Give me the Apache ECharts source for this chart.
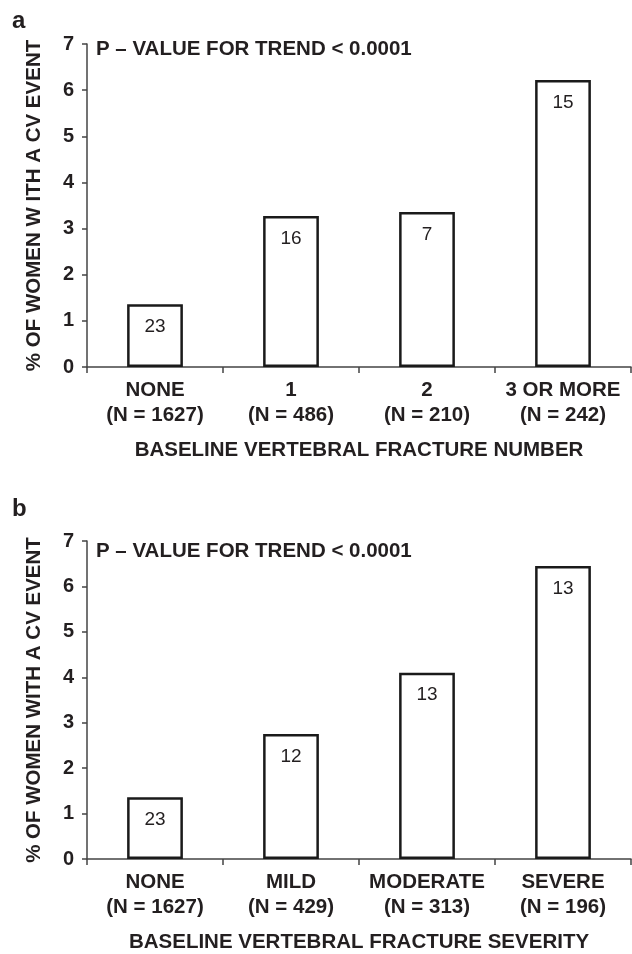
<!DOCTYPE html>
<html>
<head>
<meta charset="utf-8">
<script src="https://cdn.jsdelivr.net/npm/echarts@6/dist/echarts.min.js"></script>
<style>
html,body{margin:0;padding:0;background:#fff;}
#c{width:632px;height:954px;}
</style>
</head>
<body>
<div id="c"></div>
<script>
// Panel a
const catsA = ['NONE', '1', '2', '3 OR MORE'];
const nA = [1627, 486, 210, 242];
const valsA = [1.36, 3.27, 3.36, 6.22];
const countsA = [23, 16, 7, 15];
// Panel b
const catsB = ['NONE', 'MILD', 'MODERATE', 'SEVERE'];
const nB = [1627, 429, 313, 196];
const valsB = [1.36, 2.75, 4.1, 6.45];
const countsB = [23, 12, 13, 13];
const yTicks = [0, 1, 2, 3, 4, 5, 6, 7];

const FONT = '"Liberation Sans", Arial, Helvetica, sans-serif';
const TXT = '#231f20';
const AX = '#444';

function xAxis(idx, cats, ns, name) {
  return {
    type: 'category', gridIndex: idx,
    data: cats.map((c, i) => c + '\n(N = ' + ns[i] + ')'),
    axisLine: {show: true, lineStyle: {color: AX, width: 1.5}},
    axisTick: {show: true, length: 6, lineStyle: {color: AX, width: 1.5}},
    axisLabel: {color: TXT, fontFamily: FONT, fontWeight: 'bold', fontSize: 20.5, lineHeight: 25, margin: 11, interval: 0},
    name: name, nameLocation: 'middle', nameGap: 73,
    nameTextStyle: {color: TXT, fontFamily: FONT, fontWeight: 'bold', fontSize: 20.5}
  };
}
function yAxis(idx, name) {
  return {
    type: 'value', gridIndex: idx, min: 0, max: 7, interval: 1,
    splitLine: {show: false},
    axisLine: {show: true, lineStyle: {color: AX, width: 1.5}},
    axisTick: {show: true, length: 5, lineStyle: {color: AX, width: 1.5}},
    axisLabel: {color: TXT, fontFamily: FONT, fontWeight: 'bold', fontSize: 20, margin: 13,
      formatter: v => yTicks.includes(v) ? String(v) : ''},
    name: name, nameLocation: 'middle', nameGap: 42,
    nameTextStyle: {color: TXT, fontFamily: FONT, fontWeight: 'bold', fontSize: 20.5}
  };
}
function bars(idx, vals, counts) {
  return {
    type: 'bar', xAxisIndex: idx, yAxisIndex: idx,
    data: vals, barWidth: '41%',
    itemStyle: {color: '#fff', borderColor: '#1a1a1a', borderWidth: 2.5},
    label: {show: true, position: 'insideTop', distance: 13, color: TXT,
      fontFamily: FONT, fontSize: 19, formatter: p => String(counts[p.dataIndex])},
    silent: true
  };
}

const chart = echarts.init(document.getElementById('c'), null, {renderer: 'canvas'});
chart.setOption({
  animation: false,
  backgroundColor: '#fff',
  grid: [
    {left: 87, top: 44, width: 544, height: 323},
    {left: 87, top: 541, width: 544, height: 321}
  ],
  xAxis: [
    xAxis(0, catsA, nA, 'BASELINE VERTEBRAL FRACTURE NUMBER'),
    xAxis(1, catsB, nB, 'BASELINE VERTEBRAL FRACTURE SEVERITY')
  ],
  yAxis: [
    yAxis(0, '% OF WOMEN W ITH A CV EVENT'),
    yAxis(1, '% OF WOMEN WITH A CV EVENT')
  ],
  series: [bars(0, valsA, countsA), bars(1, valsB, countsB)],
  graphic: [
    {type: 'text', left: 12, top: 9, style: {text: 'a', font: 'bold 24px ' + FONT, fill: TXT}},
    {type: 'text', left: 12, top: 497, style: {text: 'b', font: 'bold 24px ' + FONT, fill: TXT}},
    {type: 'text', left: 96, top: 39, style: {text: 'P \u2013 VALUE FOR TREND < 0.0001', font: 'bold 20.5px ' + FONT, fill: TXT}},
    {type: 'text', left: 96, top: 541, style: {text: 'P \u2013 VALUE FOR TREND < 0.0001', font: 'bold 20.5px ' + FONT, fill: TXT}}
  ]
});
</script>
</body>
</html>
